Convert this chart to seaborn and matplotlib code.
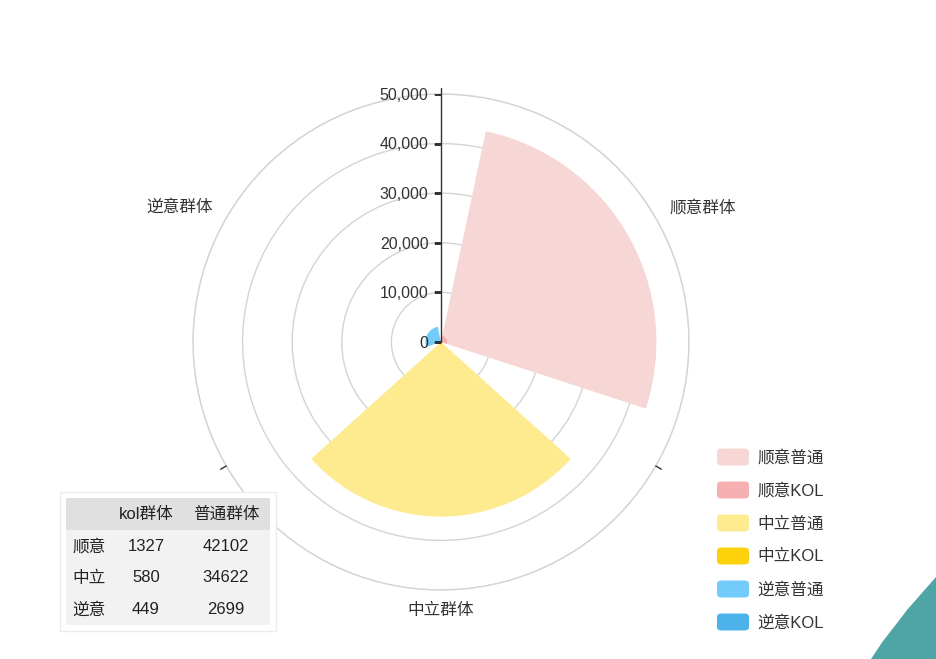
import numpy as np
import seaborn as sns
import matplotlib.pyplot as plt
from matplotlib.patches import FancyBboxPatch, Rectangle, Polygon

# data
categories = ['顺意群体', '中立群体', '逆意群体']
row_names = ['顺意', '中立', '逆意']
kol_values = [1327, 580, 449]
normal_values = [42102, 34622, 2699]
series_names = ['顺意普通', '顺意KOL', '中立普通', '中立KOL', '逆意普通', '逆意KOL']
normal_colors = ['#f7d6d6', '#feeb90', '#72cbf8']
kol_colors = ['#f7b0b2', '#fdd20c', '#4cb3ea']
r_ticks = [0, 10000, 20000, 30000, 40000, 50000]

sns.set_theme(style='white')
plt.rcParams['font.family'] = ['Liberation Sans', 'Noto Sans CJK SC']

W, H = 936, 659
fig = plt.figure(figsize=(W / 100, H / 100), dpi=100)
fig.patch.set_facecolor('white')
TXT = '#333333'


def fx(px):
    return px / W


def fy(py):
    return 1 - py / H


# polar chart, centre (441, 342), radius 248 px
cx, cy, rad = 441, 342, 248
ax = fig.add_axes([fx(cx - rad), fy(cy + rad), 2 * rad / W, 2 * rad / H], projection='polar')
ax.set_theta_zero_location('N')
ax.set_theta_direction(-1)
ax.set_ylim(0, 50000)
ax.set_yticks(r_ticks)
ax.set_yticklabels([])
ax.set_xticks([])
ax.yaxis.grid(True, color='#d4d4d4', lw=1)
ax.spines['polar'].set_color('#d4d4d4')
ax.spines['polar'].set_linewidth(1)
ax.set_facecolor('white')

theta = np.deg2rad([60, 180, 300])
width = np.deg2rad(96)
for i in range(3):
    ax.bar(theta[i], kol_values[i], width, bottom=0, color=kol_colors[i], lw=0, zorder=2)
    ax.bar(theta[i], normal_values[i], width, bottom=kol_values[i],
           color=normal_colors[i], lw=0, zorder=2)

# radial axis
ax.plot([0, 0], [0, 50000], color=TXT, lw=1, zorder=4)
ax.plot([0] * len(r_ticks), r_ticks, ls='none', marker=0, ms=5, mew=1,
        color=TXT, zorder=4)
for r in r_ticks:
    ax.annotate(f'{r:,}', xy=(0, r), xytext=(-9, -1), textcoords='offset points',
                ha='right', va='center', fontsize=11.5, color=TXT, zorder=5)

# angle ticks
for t in np.deg2rad([0, 120, 240]):
    ax.plot([t, t], [50000, 51300], color=TXT, lw=1, clip_on=False, zorder=4)

# category labels
ax.annotate(categories[0], xy=(theta[0], 53200), xytext=(0, 2), textcoords='offset points',
            ha='left', va='center', fontsize=12, color=TXT, annotation_clip=False)
ax.annotate(categories[1], xy=(theta[1], 52000), xytext=(0, -2), textcoords='offset points',
            ha='center', va='top', fontsize=12, color=TXT, annotation_clip=False)
ax.annotate(categories[2], xy=(theta[2], 53200), xytext=(0, 2), textcoords='offset points',
            ha='right', va='center', fontsize=12, color=TXT, annotation_clip=False)

# legend
legend_colors = []
for i in range(3):
    legend_colors += [normal_colors[i], kol_colors[i]]
for i, (name, col) in enumerate(zip(series_names, legend_colors)):
    yc = 457 + 33 * i
    fig.add_artist(FancyBboxPatch((fx(717), fy(yc + 8.5)), 32 / W, 17 / H,
                                  boxstyle='round,pad=0,rounding_size=0.005',
                                  transform=fig.transFigure, fc=col, ec='none'))
    fig.text(fx(757), fy(yc + 0.5), name, ha='left', va='center', fontsize=12, color=TXT)

# table
fig.add_artist(Rectangle((fx(60), fy(631)), 216 / W, 139 / H, transform=fig.transFigure,
                         fc='white', ec='#ececec', lw=1))
fig.add_artist(Rectangle((fx(66), fy(530)), 204 / W, 32 / H, transform=fig.transFigure,
                         fc='#e0e0e0', ec='none'))
fig.add_artist(Rectangle((fx(66), fy(625)), 204 / W, 95 / H, transform=fig.transFigure,
                         fc='#f2f2f2', ec='none'))
col_x = [89, 146, 226]
fig.text(fx(col_x[1]), fy(514), 'kol群体', ha='center', va='center', fontsize=12, color='#222222')
fig.text(fx(col_x[2]), fy(514), '普通群体', ha='center', va='center', fontsize=12, color='#222222')
for i in range(3):
    yc = 546.5 + 31.5 * i
    fig.text(fx(col_x[0]), fy(yc), row_names[i], ha='center', va='center', fontsize=12, color='#222222')
    fig.text(fx(col_x[1]), fy(yc), str(kol_values[i]), ha='center', va='center', fontsize=12, color='#222222')
    fig.text(fx(col_x[2]), fy(yc), str(normal_values[i]), ha='center', va='center', fontsize=12, color='#222222')

# decorative corner
corner = [(936, 577), (921, 594), (907, 610), (894, 627), (883, 641), (871, 659), (936, 659)]
fig.add_artist(Polygon([(fx(x), fy(y)) for x, y in corner], closed=True,
                       transform=fig.transFigure, fc='#4fa4a6', ec='none'))

fig.savefig('out.png', dpi=100)
